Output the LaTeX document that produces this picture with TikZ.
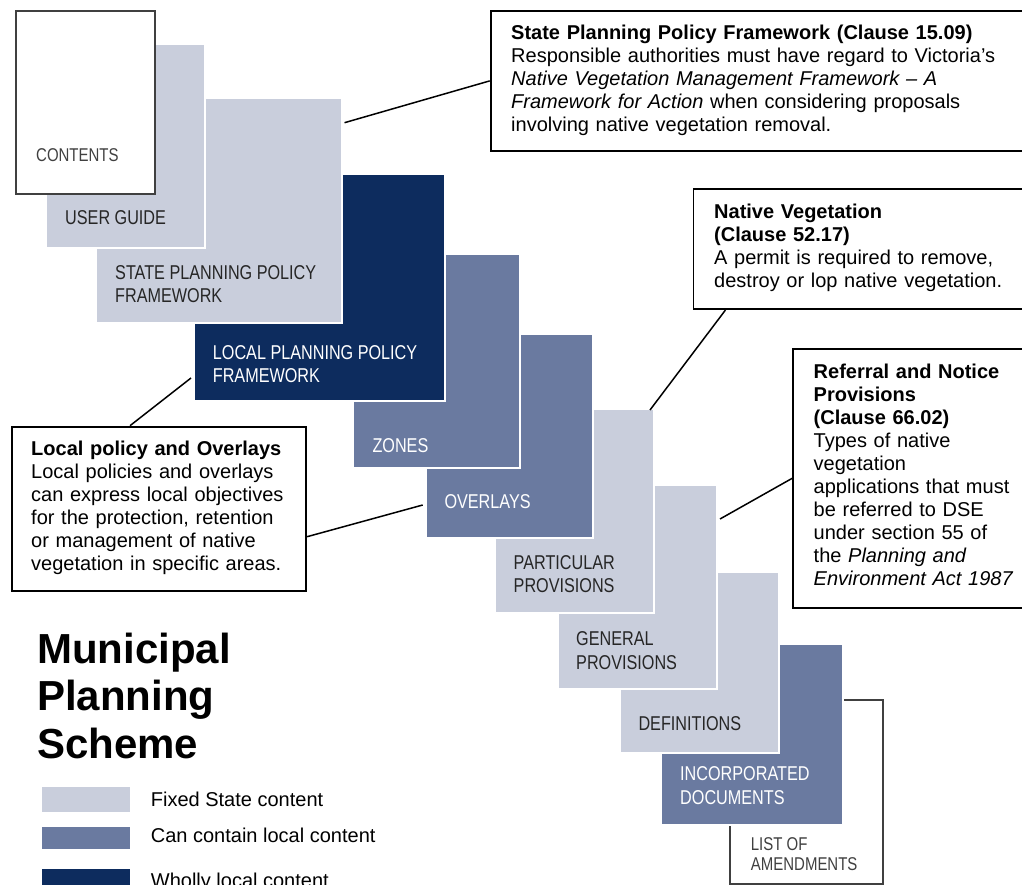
\documentclass[tikz,border=0pt]{standalone}
\usepackage{fontspec}
\setmainfont{Liberation Sans}
\newfontfamily\labelfont{Liberation Sans}[FakeStretch=0.81]
\usetikzlibrary{calc,positioning}

\definecolor{fixedstate}{RGB}{201,206,220}
\definecolor{canlocal}{RGB}{106,122,160}
\definecolor{whollylocal}{RGB}{13,44,94}
\definecolor{pagegray}{RGB}{64,64,64}

\tikzset{
  part/.style={rectangle, anchor=north west, inner sep=0pt, draw=white, line width=2pt},
  fixedpart/.style={part, fill=fixedstate},
  localpart/.style={part, fill=canlocal},
  wholepart/.style={part, fill=whollylocal},
  pagepart/.style={part, fill=white, draw=pagegray, line width=1.6pt},
  darklabel/.style={anchor=base west, inner sep=0pt, align=left, text=black!85,
    font=\labelfont\fontsize{20}{23.4}\selectfont},
  lightlabel/.style={darklabel, text=white},
  pagelabel/.style={darklabel, text=pagegray, font=\labelfont\fontsize{18.5}{20.7}\selectfont},
  callout/.style={rectangle, anchor=north west, inner sep=0pt, draw=black, line width=1.8pt},
  callouttext/.style={anchor=base west, inner sep=0pt, align=left, text width=520pt,
    font=\fontsize{20}{23}\selectfont},
  keytext/.style={anchor=base west, inner sep=0pt, font=\fontsize{20}{23}\selectfont},
  leader/.style={draw=black, line width=1.5pt}
}

\begin{document}
\begin{tikzpicture}[x=1pt,y=-1pt]
\fill[white] (0,0) rectangle (1022,885);
\useasboundingbox (0,0) rectangle (1022,885);
    % parts of the scheme, last one first so that earlier parts lie on top
    \foreach \nm/\st/\xa/\ya/\xb/\yb in {
        amend/pagepart/729/699/882/883,
        incdoc/localpart/660/643/842/824,
        defs/fixedpart/619/571/778/752,
        genprov/fixedpart/557/484/716/688,
        partprov/fixedpart/494/408/653/612,
        overlays/localpart/425/333/592/537,
        zones/localpart/352/253/519/467,
        lppf/wholepart/193/173/444/400,
        sppf/fixedpart/95/97/341/322,
        userguide/fixedpart/45/43/204/247,
        contents/pagepart/15/10/154/193} {
        \node[\st, minimum width={(\xb-\xa)*1pt}, minimum height={(\yb-\ya)*1pt}] (\nm) at (\xa,\ya) {};
    }
    % two-line labels sit on the baseline of their last line
    \node[pagelabel] (contentslbl) at (36,161.7) {CONTENTS};
    \node[darklabel] (userguidelbl) at (65,225) {USER GUIDE};
    \node[darklabel] (sppflbl) at (115,302.7) {STATE PLANNING POLICY\\FRAMEWORK};
    \node[lightlabel] (lppflbl) at (212.7,382.7) {LOCAL PLANNING POLICY\\FRAMEWORK};
    \node[lightlabel] (zoneslbl) at (372.3,452.7) {ZONES};
    \node[lightlabel] (overlayslbl) at (444.3,508.3) {OVERLAYS};
    \node[darklabel] (partprovlbl) at (513.5,592.7) {PARTICULAR\\PROVISIONS};
    \node[darklabel] (genprovlbl) at (576,669) {GENERAL\\PROVISIONS};
    \node[darklabel] (defslbl) at (638.3,730) {DEFINITIONS};
    \node[lightlabel] (incdoclbl) at (680,804) {INCORPORATED\\DOCUMENTS};
    \node[pagelabel] (amendlbl) at (750.7,870.7) {LIST OF\\AMENDMENTS};

    % callouts
    \node[callout, minimum width=540pt, minimum height=140pt] (spbox) at (489.7,10) {};
    \node[callout, minimum width=340pt, minimum height=120pt] (nvbox) at (692.6,188.3) {};
    \node[callout, minimum width=240pt, minimum height=259pt] (rnbox) at (792,348) {};
    \node[callout, minimum width=294.6pt, minimum height=164.3pt] (lpbox) at (10.7,425.7) {};
    \node[callouttext] (sptext) at (511,39.5) {\textbf{State Planning Policy Framework (Clause 15.09)}\\
        Responsible authorities must have regard to Victoria’s\\
        \textit{Native Vegetation Management Framework – A}\\
        \textit{Framework for Action} when considering proposals\\
        involving native vegetation removal.};
    \node[callouttext] (nvtext) at (714,218.3) {\textbf{Native Vegetation}\\\textbf{(Clause 52.17)}\\
        A permit is required to remove,\\destroy or lop native vegetation.};
    \node[callouttext] (rntext) at (813.5,378.3) {\textbf{Referral and Notice}\\\textbf{Provisions}\\
        \textbf{(Clause 66.02)}\\Types of native\\vegetation\\applications that must\\
        be referred to DSE\\under section 55 of\\the \textit{Planning and}\\\textit{Environment Act 1987}};
    \node[callouttext] (lptext) at (31,455) {\textbf{Local policy and Overlays}\\Local policies and overlays\\
        can express local objectives\\for the protection, retention\\or management of native\\
        vegetation in specific areas.};

    \draw[leader] ([xshift=1.5pt,yshift=-25.7pt]sppf.north east) -- (spbox.west);
    \draw[leader] ([xshift=-5pt,yshift=-2pt]partprov.north east) -- ([xshift=32.8pt]nvbox.south west);
    \draw[leader] ([xshift=2pt,yshift=-35pt]genprov.north east) -- (rnbox.west);
    \draw[leader] ([xshift=-2pt,yshift=-205pt]lppf.north west) -- ([xshift=119.3pt]lpbox.north west);
    \draw[leader] ([xshift=-2.3pt,yshift=-172pt]overlays.north west) -- ([yshift=-111pt]lpbox.north east);

    % title and key
    \node[anchor=base west, inner sep=0pt, align=left, font=\bfseries\fontsize{42}{47.5}\selectfont] (title) at (37,758.3) {Municipal\\Planning\\Scheme};
    \node[fixedpart, minimum width=90pt, minimum height=27pt] (keyfixed) at (40,785) {};
    \node[localpart, minimum width=90pt, minimum height=24pt] (keylocal) at (40,825) {};
    \node[wholepart, minimum width=90pt, minimum height=30pt] (keywhole) at (40,867) {};
    \node[keytext] (keyfixedlbl) at (150.7,806) {Fixed State content};
    \node[keytext] (keylocallbl) at (150.7,842.3) {Can contain local content};
    \node[keytext] (keywholelbl) at (150.7,887) {Wholly local content};
\end{tikzpicture}
\end{document}
